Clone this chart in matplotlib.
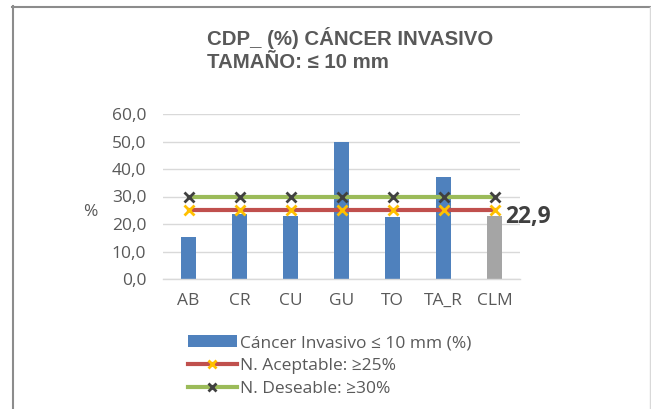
import matplotlib
matplotlib.use("Agg")
import matplotlib.pyplot as plt
from matplotlib.lines import Line2D
from matplotlib.patches import Patch
import numpy as np

categories = ["AB", "CR", "CU", "GU", "TO", "TA_R", "CLM"]
values = [15.4, 23.5, 23.0, 50.0, 22.5, 37.2, 22.9]
aceptable = [25, 25, 25, 25, 25, 25, 25]
deseable = [30, 30, 30, 30, 30, 30, 30]
yticks = [0, 10, 20, 30, 40, 50, 60]
ytick_labels = ["0,0", "10,0", "20,0", "30,0", "40,0", "50,0", "60,0"]
clm_label = "22,9"

W, H = 651, 409
fig = plt.figure(figsize=(W/100, H/100), dpi=100)
fig.patch.set_facecolor("white")

tickfont = "Open Sans"
txtcol = "#595959"

ax = fig.add_axes([163/W, 1-279/H, (520-163)/W, (279-114)/H])
x = np.arange(len(categories))
colors = ["#4f81bd"]*6 + ["#a5a5a5"]
ax.bar(x, values, width=0.31, color=colors, zorder=2)
ax.plot(x, aceptable, color="#c0504d", lw=3, marker="x", ms=7.5, mew=2,
        mec="#ffc000", zorder=3)
ax.plot(x, deseable, color="#9bbb59", lw=3, marker="x", ms=7.5, mew=2,
        mec="#404040", zorder=3)
ax.set_xlim(-0.5, len(categories)-0.5)
ax.set_ylim(0, 60)
ax.set_yticks(yticks)
ax.set_yticklabels(ytick_labels)
ax.set_xticks(x)
ax.set_xticklabels(categories)
ax.yaxis.grid(True, color="#d9d9d9", lw=1, zorder=0)
ax.set_axisbelow(True)
for s in ["top", "right", "left"]:
    ax.spines[s].set_visible(False)
ax.spines["bottom"].set_color("#d9d9d9")
ax.spines["bottom"].set_linewidth(1)
ax.tick_params(axis="both", length=0, labelsize=12.5, labelcolor=txtcol)
ax.tick_params(axis="y", pad=12)
ax.tick_params(axis="x", pad=10)
for lab in ax.get_xticklabels() + ax.get_yticklabels():
    lab.set_fontfamily(tickfont)

ax.annotate(clm_label, xy=(x[-1]+0.2, values[-1]), xytext=(0, -1),
            textcoords="offset points", ha="left", va="center",
            fontsize=16.5, fontweight="bold", color="#404040",
            family="Open Sans", annotation_clip=False)

fig.text(90/W, 1-212/H, "%", fontsize=12.5, color=txtcol, family=tickfont,
         ha="center", va="center")

fig.text(207/W, 1-38/H, "CDP_ (%) CÁNCER INVASIVO", fontsize=14.7,
         fontweight="bold", color="#595959", family="Liberation Sans",
         ha="left", va="center")
fig.text(207/W, 1-62/H, "TAMAÑO: ≤ 10 mm", fontsize=14.7,
         fontweight="bold", color="#595959", family="Liberation Sans",
         ha="left", va="center")

handles = [
    Patch(facecolor="#4f81bd", edgecolor="none"),
    Line2D([0], [0], color="#c0504d", lw=3, marker="x", ms=5.5, mew=2, mec="#ffc000"),
    Line2D([0], [0], color="#9bbb59", lw=3, marker="x", ms=5.5, mew=2, mec="#404040"),
]
labels = ["Cáncer Invasivo ≤ 10 mm (%)", "N. Aceptable: ≥25%", "N. Deseable: ≥30%"]
leg = fig.legend(handles, labels, loc="upper left", bbox_to_anchor=(181/W, 1-328/H),
                 frameon=False, handlelength=2.8, handletextpad=0.2,
                 labelspacing=0.38, borderaxespad=0,
                 prop={"family": tickfont, "size": 12.5})
for t in leg.get_texts():
    t.set_color(txtcol)

# chart border
fig.add_artist(Line2D([12.5/W, 12.5/W], [0, 1-6/H], color="#8c8c8c", lw=1.5))
fig.add_artist(Line2D([12/W, 1], [1-6.5/H, 1-6.5/H], color="#8c8c8c", lw=1.5))
fig.add_artist(Line2D([649.5/W, 649.5/W], [0, 1-7/H], color="#d9d9d9", lw=1))

fig.savefig("out.png", dpi=100)
